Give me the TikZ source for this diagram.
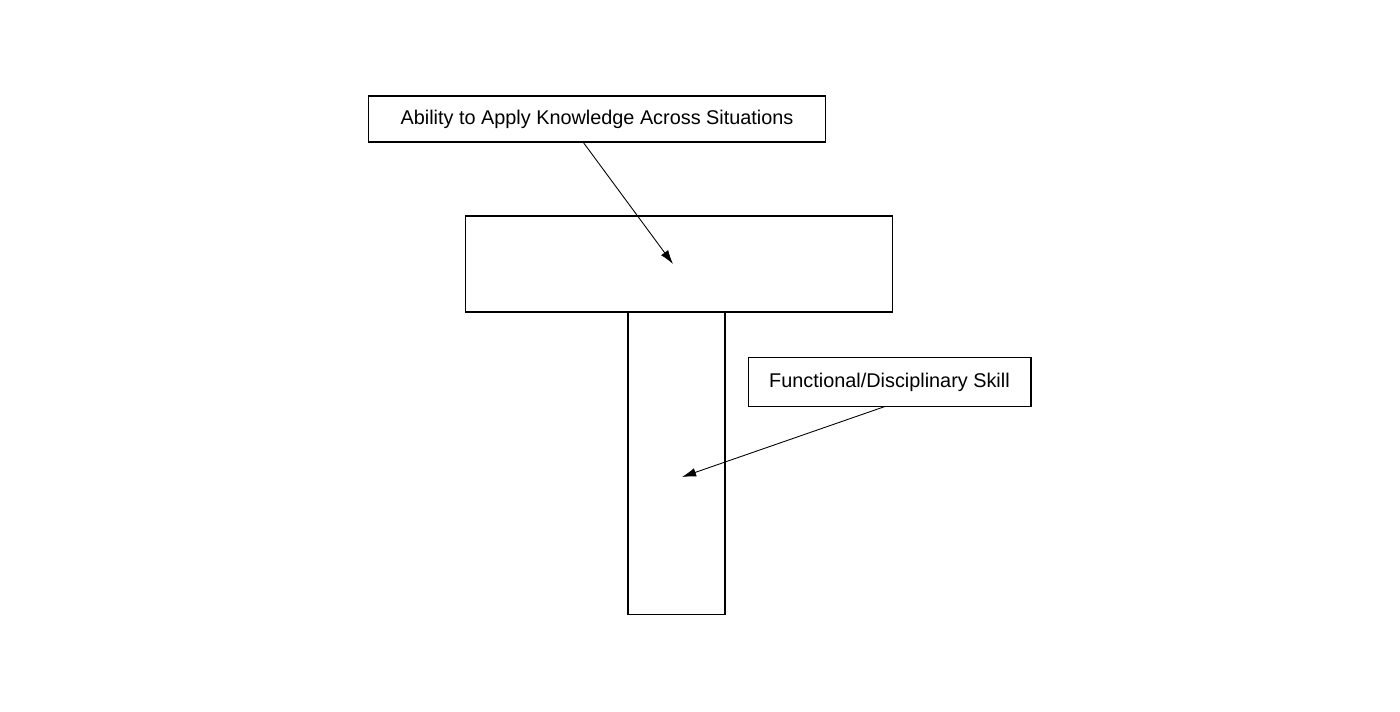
\documentclass[tikz,border=0pt]{standalone}
\usepackage{fontspec}
\setmainfont{Liberation Sans}
\usepackage{tikz}
\usetikzlibrary{arrows.meta}

\begin{document}
\begin{tikzpicture}[x=0.02cm,y=-0.02cm,
    labelbox/.style={draw,line width=0.6pt,inner sep=0pt,outer sep=0pt,
      font=\fontsize{11.3}{13}\selectfont},
    part/.style={draw,line width=0.6pt,inner sep=0pt,outer sep=0pt},
    pointer/.style={line width=0.5pt,-{Latex[length=8pt,width=5pt]}}]
    \useasboundingbox (0,0) rectangle (1400,712);
    \node[part,minimum width=1.94cm,minimum height=6.06cm] (stem) at (676.5,463.5) {};
    \node[part,fill=white,minimum width=8.56cm,minimum height=1.92cm] (crossbar) at (679,264) {};
    \node[labelbox,minimum width=9.16cm,minimum height=0.92cm] (ability) at (597,119)
      {Ability to Apply Knowledge Across Situations};
    \node[labelbox,minimum width=5.66cm,minimum height=0.98cm] (skill) at (889.5,382)
      {Functional/Disciplinary Skill};
    \coordinate (abilitytip) at (673,264);
    \coordinate (skilltip) at (682,477);
    \draw[pointer] ([xshift=-0.28cm]ability.south) -- (abilitytip);
    \draw[pointer] ([xshift=-0.09cm]skill.south) -- (skilltip);
  \end{tikzpicture}
\end{document}
